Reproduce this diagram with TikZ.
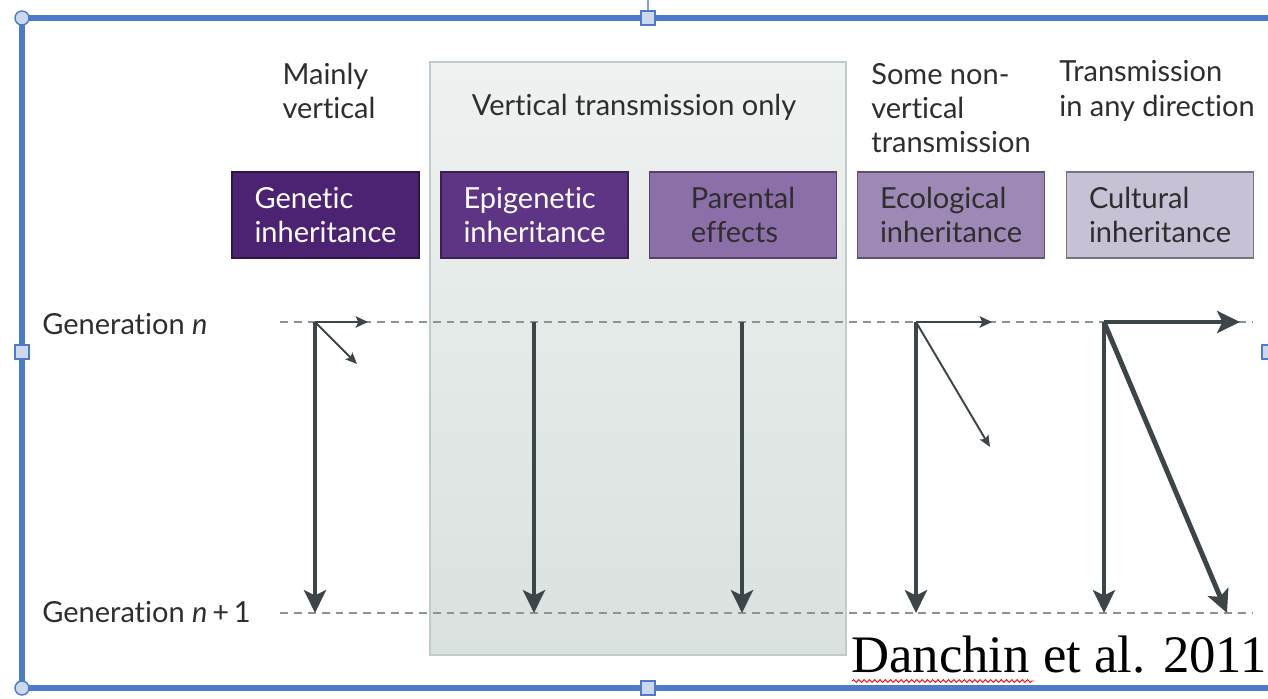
\documentclass[tikz,border=0pt]{standalone}
\usepackage{fontspec}
\setmainfont{Lato}[Ligatures=NoCommon]
\newfontfamily\citefont{Liberation Serif}
\usepackage{tikz}
\usetikzlibrary{arrows.meta,decorations.pathmorphing}

\definecolor{framebl}{HTML}{4C7BC9}
\definecolor{handlebl}{HTML}{CCD8EC}
\definecolor{labelgray}{HTML}{2E2E2E}
\definecolor{arrowgray}{HTML}{3C4548}
\definecolor{dashgray}{HTML}{8C9494}
\definecolor{vboxtop}{HTML}{EEF2F0}
\definecolor{vboxbot}{HTML}{DAE1DF}
\definecolor{vboxedge}{HTML}{BFCDC9}
\definecolor{genc}{HTML}{4C2373}
\definecolor{epic}{HTML}{5E3585}
\definecolor{parc}{HTML}{8C6FA8}
\definecolor{ecoc}{HTML}{9E88B5}
\definecolor{culc}{HTML}{C8C0D5}

\begin{document}
\begin{tikzpicture}[x=0.02cm, y=-0.02cm,
   lbl/.style={align=left, text=labelgray, inner sep=0pt,
               font=\fontsize{16.5}{19.5}\selectfont},
   inh/.style={draw=#1!60!black, line width=0.8pt, align=left, inner sep=0pt,
               minimum width=3.74cm, minimum height=1.72cm,
               font=\fontsize{16.5}{19.5}\selectfont},
   genline/.style={dashgray, line width=1.1pt, dash pattern=on 4.5pt off 3.4pt},
   vert/.style={arrowgray, line width=2.8pt,
               -{Stealth[length=13pt, width=12.5pt, inset=3pt]}},
   side/.style={arrowgray, line width=1.6pt,
               -{Stealth[length=7pt, width=6.5pt, inset=1.5pt]}},
   slant/.style={arrowgray, line width=1.1pt,
               -{Stealth[length=6.5pt, width=5.5pt, inset=1.2pt]}},
   handle/.style={draw=framebl, fill=handlebl, line width=0.8pt}
   ]
\useasboundingbox (0,0) rectangle (1268,699);
\fill[white] (0,0) rectangle (1268,699);

% selection frame
\draw[framebl!70, line width=0.6pt] (648,0) -- (648,18);
\draw[framebl, line width=3.6pt] (1272,18) -- (22,18) -- (22,688) -- (1272,688);
\draw[handle] (22,18) circle (7);
\draw[handle] (22,688) circle (7);
\draw[handle] (641,11) rectangle (655,25);
\draw[handle] (641,681) rectangle (655,695);
\draw[handle] (15,345) rectangle (29,359);
\draw[handle] (1262,345) rectangle (1276,359);

% vertical-only panel
\node[draw=vboxedge, line width=0.8pt, top color=vboxtop, bottom color=vboxbot,
      minimum width=8.32cm, minimum height=11.86cm, inner sep=0pt]
      (vbox) at (638,358.5) {};
\node[lbl] (vonly) at (634,107) {Vertical transmission only};

\node[lbl] (mainly) at (329,91) {Mainly\\vertical};
\node[lbl] (somenon) at (951,108) {Some non-\\vertical\\transmission};
\node[lbl] (anydir) at (1157,91) {Transmission\\in any direction};

% inheritance boxes
\node[inh=genc, top color=genc, middle color=genc!55!white, bottom color=genc,
      text=white] (genetic) at (325.5,215) {Genetic\\inheritance};
\node[inh=epic, top color=epic, middle color=epic!60!white, bottom color=epic,
      text=white] (epigen) at (534.5,215) {Epigenetic\\inheritance};
\node[inh=parc, top color=parc, middle color=parc!55!white, bottom color=parc,
      text=labelgray] (parental) at (743,215) {Parental\\effects};
\node[inh=ecoc, top color=ecoc, middle color=ecoc!50!white, bottom color=ecoc,
      text=labelgray] (ecol) at (951,215) {Ecological\\inheritance};
\node[inh=culc, top color=culc, middle color=culc!40!white, bottom color=culc,
      text=labelgray] (cultural) at (1160,215) {Cultural\\inheritance};

% generations
\node[lbl, anchor=west] (gen0) at (42,324) {Generation \textit{n}};
\node[lbl, anchor=west] (gen1) at (42,612) {Generation \textit{n}\,+\,1};
\coordinate (dash0) at (280,322);
\coordinate (dash0e) at (1253,322);
\coordinate (dash1) at (280,613);
\coordinate (dash1e) at (1253,613);
\draw[genline] (dash0) -- (dash0e);
\draw[genline] (dash1) -- (dash1e);

% arrow origins and ends
\coordinate (gO) at (315,322);   \coordinate (gD) at (315,613);
\coordinate (gH) at (368,322);   \coordinate (gS) at (357,364);
\coordinate (eO) at (534,322);   \coordinate (eD) at (534,613);
\coordinate (pO) at (742,322);   \coordinate (pD) at (742,613);
\coordinate (cO) at (916,322);   \coordinate (cD) at (916,613);
\coordinate (cH) at (992,322);   \coordinate (cS) at (990,447);
\coordinate (uO) at (1104,322);  \coordinate (uD) at (1104,613);
\coordinate (uH) at (1240,322);  \coordinate (uS) at (1227,613);

\draw[vert] (gO) -- (gD);
\draw[side] (gO) -- (gH);
\draw[slant] (gO) -- (gS);
\draw[vert] (eO) -- (eD);
\draw[vert] (pO) -- (pD);
\draw[vert] (cO) -- (cD);
\draw[side] (cO) -- (cH);
\draw[slant] (cO) -- (cS);
\draw[vert] (uO) -- (uD);
\draw[vert] (uO) -- (uH);
\draw[vert] (uO) -- (uS);

% citation
\node[anchor=base west, inner sep=0pt, font=\citefont\fontsize{30}{34}\selectfont]
      (cite) at (851,672) {Danchin et al. 2011};
\coordinate (wavyA) at (852,681);
\coordinate (wavyB) at (1034,681);
\draw[red, line width=0.5pt, decorate,
      decoration={snake, amplitude=0.8pt, segment length=3pt}] (wavyA) -- (wavyB);

\end{tikzpicture}
\end{document}
